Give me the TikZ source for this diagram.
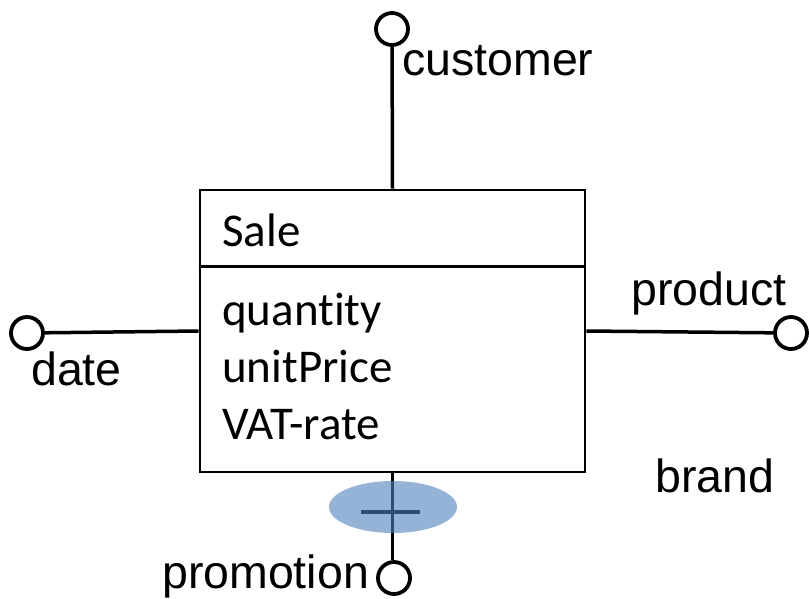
\documentclass[tikz,border=0pt]{standalone}
\usepackage{fontspec}
\setmainfont{Liberation Sans}
\newfontfamily\calibrifont[Ligatures=NoCommon]{Carlito}
\usetikzlibrary{shapes.geometric}
\definecolor{accentblue}{HTML}{4F81BD}
\begin{document}
\begin{tikzpicture}[x=1pt,y=-1pt,
  classbox/.style={draw,line width=2.8pt,minimum width=385pt,minimum height=282pt,inner sep=0pt},
  conn/.style={line width=3.5pt},
  endpt/.style={circle,draw,line width=3.8pt,fill=white,minimum size=32pt,inner sep=0pt},
  lbl/.style={anchor=base west,inner sep=0pt,font=\fontsize{46.5}{56}\selectfont},
  attr/.style={anchor=base west,inner sep=0pt,font=\calibrifont\fontsize{47}{57}\selectfont},
  tagmark/.style={ellipse,draw=none,fill=accentblue,fill opacity=0.6,minimum width=128pt,minimum height=52pt,inner sep=0pt}]
\useasboundingbox (0,0) rectangle (809,598);

% fact class
\node[classbox] (sale) at (392.5,331) {};
\draw[line width=2.8pt] ([yshift=-78pt]sale.north west) coordinate (divl) -- ([yshift=-78pt]sale.north east) coordinate (divr);
\node[attr] (name) at (222,246) {Sale};
\node[attr] (a1) at (222,325) {quantity};
\node[attr] (a2) at (222,382) {unitPrice};
\node[attr] (a3) at (222,439) {VAT-rate};

% dimension end points
\node[endpt] (cust) at (392,29) {};
\node[endpt] (dat) at (27,333) {};
\node[endpt] (prod) at (791,333) {};
\node[endpt] (prom) at (394,578) {};

\draw[conn] (sale.north) -- (cust);
\draw[conn] (sale.west) -- (dat);
\draw[conn] (sale.east) -- (prod);
\draw[conn] (sale.south) -- (sale.south |- prom.north);

% optional marker on the promotion link
\coordinate (pc) at (393,507);
\draw[conn] ([xshift=-32pt,yshift=-5pt]pc) coordinate (barl) -- ([xshift=27pt,yshift=-5pt]pc) coordinate (barr);
\node[tagmark] (mark) at (pc) {};

% labels
\node[lbl] (lcust) at (402,75) {customer};
\node[lbl] (lprod) at (631,305) {product};
\node[lbl] (ldat) at (31,385) {date};
\node[lbl] (lbrand) at (655,492) {brand};
\node[lbl] (lprom) at (162,588) {promotion};
\end{tikzpicture}
\end{document}
